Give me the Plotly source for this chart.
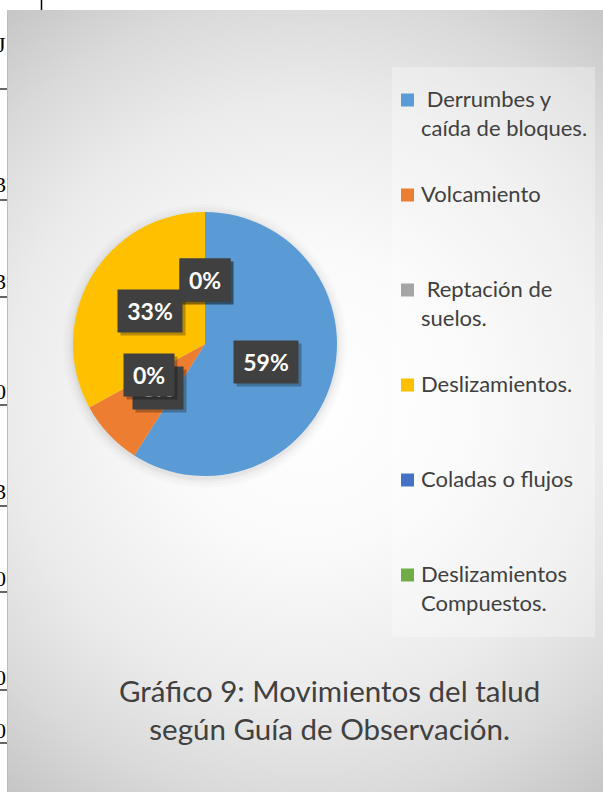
import math
import base64
import textwrap
import plotly.graph_objects as go

# --- data ---
categories = [" Derrumbes y caída de bloques.", "Volcamiento", " Reptación de suelos.",
              "Deslizamientos.", "Coladas o flujos", "Deslizamientos Compuestos."]
percent = [59, 8, 0, 33, 0, 0]
colors = ["#5B9BD5", "#ED7D31", "#A5A5A5", "#FFC000", "#4472C4", "#70AD47"]
caption = "Gráfico 9: Movimientos del talud<br>según Guía de Observación."

# bits of the page table peeking out on the left of the chart
edge_digits = ["J", "3", "3", "0", "3", "0", "0", "0"]
edge_digit_y = [44, 185, 281, 391, 491, 578, 677, 730]
edge_line_y = [89, 200, 297, 405, 506, 592, 690, 743]

W, H = 603, 792
CX, CY, R = 205, 344, 132   # pie centre / radius in px


def px(x):
    return x / W


def py(y):
    return 1 - y / H


# radial gradient panel, like the Excel chart area fill
svg = (
    '<svg xmlns="http://www.w3.org/2000/svg" width="596" height="782" viewBox="0 0 596 782">'
    '<defs><radialGradient id="g" gradientUnits="userSpaceOnUse" cx="300" cy="390" r="500">'
    '<stop offset="0" stop-color="#ffffff"/><stop offset="0.3" stop-color="#fafafa"/>'
    '<stop offset="0.6" stop-color="#ebebeb"/><stop offset="0.8" stop-color="#dadada"/>'
    '<stop offset="1" stop-color="#c4c4c4"/></radialGradient></defs>'
    '<rect x="0" y="0" width="596" height="782" fill="url(#g)"/>'
    '<line x1="0.5" y1="0" x2="0.5" y2="782" stroke="#bdbdbd" stroke-width="1"/>'
    '</svg>'
)
bg_src = "data:image/svg+xml;base64," + base64.b64encode(svg.encode()).decode()

fig = go.Figure(go.Pie(
    labels=categories,
    values=percent,
    sort=False,
    direction="clockwise",
    rotation=0,
    marker=dict(colors=colors, line=dict(width=0)),
    textinfo="none",
    hoverinfo="label+percent",
    showlegend=False,
    domain=dict(x=[px(CX - R), px(CX + R)], y=[py(CY + R), py(CY - R)]),
))

shapes = []
# soft shadow around the pie
for k, a in [(10, 0.015), (7, 0.02), (4, 0.025), (2, 0.03)]:
    shapes.append(dict(type="circle", xref="paper", yref="paper", layer="below",
                       x0=px(CX - R - k), x1=px(CX + R + k),
                       y0=py(CY + R + k + 2), y1=py(CY - R - k + 2),
                       fillcolor=f"rgba(0,0,0,{a})", line=dict(width=0)))

# legend panel
shapes.append(dict(type="rect", xref="paper", yref="paper", layer="below",
                   x0=px(392), x1=px(595), y0=py(637), y1=py(67),
                   fillcolor="rgba(255,255,255,0.3)", line=dict(width=0)))

annotations = []

# data labels: dark boxes placed along each slice's mid angle
total = sum(percent)
cum = 0
for v in percent:
    mid = (cum + v / 2) / total * 2 * math.pi
    cum += v
    lx = CX + 64 * math.sin(mid)
    ly = CY - 64 * math.cos(mid)
    txt = f"{v / total * 100:.0f}%"
    w = 14 * len(txt) + 14
    annotations.append(dict(x=px(lx + 3), y=py(ly + 3), xref="paper", yref="paper",
                            xanchor="center", yanchor="middle",
                            text="", showarrow=False, width=w, height=34, borderpad=4,
                            bgcolor="rgba(0,0,0,0.28)"))
    annotations.append(dict(x=px(lx), y=py(ly), xref="paper", yref="paper",
                            xanchor="center", yanchor="middle",
                            text=f"<b>{txt}</b>", showarrow=False, width=w, height=34,
                            borderpad=4, bgcolor="#404040",
                            font=dict(family="Lato", size=23, color="white")))

# legend entries
for i, (name, col) in enumerate(zip(categories, colors)):
    yy = 100 + 95 * i
    shapes.append(dict(type="rect", xref="paper", yref="paper",
                       x0=px(401), x1=px(414), y0=py(yy + 6.5), y1=py(yy - 6.5),
                       fillcolor=col, line=dict(width=0)))
    lines = textwrap.wrap(name, 17)
    if lines[0].startswith(" "):
        lines[0] = "\u00a0" + lines[0][1:]
    annotations.append(dict(x=px(419), y=py(yy - 17), xref="paper", yref="paper",
                            xanchor="left", yanchor="top", align="left", showarrow=False,
                            text="<br>".join(lines),
                            font=dict(family="Lato", size=22, color="#404040")))

# caption
annotations.append(dict(x=px(329), y=py(709), xref="paper", yref="paper",
                        xanchor="center", yanchor="middle",
                        text=caption, showarrow=False, align="center",
                        font=dict(family="Lato", size=29.5, color="#404040")))

# table fragments at the left edge
for d, yy in zip(edge_digits, edge_digit_y):
    annotations.append(dict(x=px(8), y=py(yy), xref="paper", yref="paper",
                            xanchor="right", yanchor="middle", text=d, showarrow=False,
                            font=dict(family="Liberation Serif", size=22, color="black")))
for yy in edge_line_y:
    shapes.append(dict(type="line", xref="paper", yref="paper",
                       x0=0, x1=px(7), y0=py(yy), y1=py(yy),
                       line=dict(color="black", width=1.2)))
shapes.append(dict(type="line", xref="paper", yref="paper",
                   x0=px(41.5), x1=px(41.5), y0=1, y1=py(10),
                   line=dict(color="black", width=1.5)))

fig.update_layout(
    width=W, height=H,
    margin=dict(l=0, r=0, t=0, b=0),
    paper_bgcolor="white",
    images=[dict(source=bg_src, xref="paper", yref="paper", x=px(7), y=py(10),
                 sizex=px(596), sizey=782 / H, xanchor="left", yanchor="top",
                 sizing="stretch", layer="below")],
    shapes=shapes,
    annotations=annotations,
)

fig.write_html("out.html", config={"displayModeBar": False},
               post_script="document.body.style.margin='0';")
